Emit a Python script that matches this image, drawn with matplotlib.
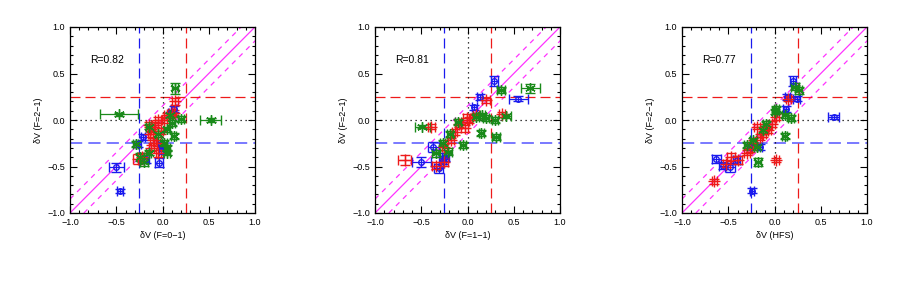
import matplotlib
matplotlib.use("Agg")
import matplotlib.pyplot as plt
from matplotlib.ticker import MultipleLocator

# ---------------- data ----------------
xlabels = ["δV (F=0−1)", "δV (F=1−1)", "δV (HFS)"]
r_values = ["R=0.82", "R=0.81", "R=0.77"]

# Panel 1
p1_blue_x = [-0.50, -0.46, -0.21, -0.04, 0.12, -0.18, -0.02, 0.08, -0.26, -0.02]
p1_blue_y = [-0.51, -0.76, -0.18, -0.46, 0.12, -0.42, -0.27, 0.07, -0.26, -0.33]
p1_blue_xe = [0.08, 0.03, 0.02, 0.04, 0.03, 0.03, 0.03, 0.02, 0.03, 0.02]
p1_blue_ye = [0.05, 0.02, 0.03, 0.05, 0.03, 0.04, 0.03, 0.02, 0.03, 0.03]

p1_red_x = [0.135, 0.12, -0.27, -0.22, -0.045, -0.10, -0.12, -0.08, -0.05, 0.02, -0.15, -0.12, 0.05, -0.02, -0.13, 0.10, -0.06]
p1_red_y = [0.20, 0.08, -0.42, -0.40, -0.36, -0.22, -0.10, -0.05, 0.00, 0.00, -0.05, -0.30, 0.05, -0.12, -0.15, 0.08, -0.25]
p1_red_xe = [0.03, 0.03, 0.05, 0.04, 0.03, 0.03, 0.03, 0.03, 0.03, 0.03, 0.03, 0.03, 0.03, 0.03, 0.03, 0.03, 0.03]
p1_red_ye = [0.04, 0.03, 0.05, 0.04, 0.04, 0.03, 0.03, 0.03, 0.03, 0.03, 0.03, 0.03, 0.03, 0.03, 0.03, 0.03, 0.03]

p1_green_x = [-0.47, 0.52, 0.135, -0.24, 0.20, 0.10, 0.12, 0.05, -0.15, -0.29, 0.05, -0.05, 0.02, -0.15, -0.20, 0.05, 0.08]
p1_green_y = [0.06, 0.00, 0.34, -0.40, 0.01, -0.03, -0.17, -0.10, -0.07, -0.26, -0.30, -0.15, -0.25, -0.35, -0.45, -0.35, 0.05]
p1_green_xe = [0.21, 0.11, 0.03, 0.04, 0.03, 0.03, 0.03, 0.03, 0.03, 0.03, 0.03, 0.03, 0.03, 0.03, 0.04, 0.03, 0.03]
p1_green_ye = [0.02, 0.02, 0.06, 0.04, 0.03, 0.03, 0.03, 0.03, 0.03, 0.03, 0.03, 0.03, 0.03, 0.03, 0.04, 0.03, 0.03]

# Panel 2
p2_blue_x = [0.29, 0.55, 0.13, 0.075, -0.50, -0.37, -0.31, -0.24, -0.27]
p2_blue_y = [0.42, 0.23, 0.25, 0.135, -0.45, -0.29, -0.52, -0.40, -0.43]
p2_blue_xe = [0.04, 0.10, 0.03, 0.03, 0.10, 0.06, 0.05, 0.04, 0.04]
p2_blue_ye = [0.05, 0.03, 0.03, 0.03, 0.05, 0.05, 0.05, 0.04, 0.04]

p2_red_x = [-0.68, -0.34, -0.25, -0.39, 0.20, 0.37, -0.03, -0.01, -0.09, 0.09, -0.18, -0.25, -0.14, 0.02]
p2_red_y = [-0.43, -0.49, -0.45, -0.07, 0.21, 0.06, -0.09, 0.02, -0.04, 0.05, -0.22, -0.29, -0.13, 0.00]
p2_red_xe = [0.07, 0.04, 0.04, 0.04, 0.04, 0.03, 0.04, 0.04, 0.03, 0.03, 0.03, 0.03, 0.03, 0.03]
p2_red_ye = [0.05, 0.04, 0.04, 0.03, 0.03, 0.03, 0.04, 0.04, 0.03, 0.03, 0.03, 0.03, 0.03, 0.03]

p2_green_x = [0.68, 0.36, -0.49, 0.15, 0.31, 0.42, 0.30, 0.16, -0.05, -0.19, -0.34, -0.21, 0.09, -0.10, 0.20, -0.27]
p2_green_y = [0.34, 0.32, -0.07, -0.14, -0.18, 0.04, 0.00, 0.05, -0.27, -0.15, -0.36, -0.34, 0.03, -0.02, 0.02, -0.25]
p2_green_xe = [0.10, 0.04, 0.08, 0.03, 0.04, 0.05, 0.03, 0.03, 0.03, 0.03, 0.04, 0.04, 0.03, 0.03, 0.03, 0.03]
p2_green_ye = [0.05, 0.03, 0.02, 0.03, 0.03, 0.02, 0.03, 0.03, 0.03, 0.03, 0.04, 0.04, 0.03, 0.03, 0.03, 0.03]

# Panel 3
p3_blue_x = [0.64, 0.20, 0.14, 0.24, 0.12, -0.24, -0.63, -0.48, -0.56, -0.41, -0.16, -0.27]
p3_blue_y = [0.03, 0.42, 0.25, 0.23, 0.12, -0.76, -0.42, -0.51, -0.49, -0.43, -0.29, -0.29]
p3_blue_xe = [0.06, 0.03, 0.03, 0.04, 0.03, 0.02, 0.05, 0.05, 0.04, 0.04, 0.03, 0.03]
p3_blue_ye = [0.02, 0.05, 0.03, 0.03, 0.03, 0.03, 0.04, 0.05, 0.04, 0.04, 0.03, 0.03]

p3_red_x = [-0.65, 0.02, -0.19, -0.39, -0.52, -0.47, -0.30, -0.23, -0.16, -0.09, -0.03, 0.02, 0.15, -0.12, -0.07, -0.27]
p3_red_y = [-0.66, -0.43, -0.07, -0.43, -0.47, -0.40, -0.35, -0.25, -0.18, -0.07, -0.04, 0.03, 0.23, -0.15, -0.11, -0.31]
p3_red_xe = [0.03, 0.03, 0.03, 0.04, 0.04, 0.04, 0.03, 0.03, 0.03, 0.03, 0.03, 0.03, 0.03, 0.03, 0.03, 0.03]
p3_red_ye = [0.03, 0.02, 0.03, 0.04, 0.04, 0.04, 0.03, 0.03, 0.03, 0.03, 0.03, 0.03, 0.03, 0.03, 0.03, 0.03]

p3_green_x = [0.11, -0.18, 0.26, 0.22, 0.18, 0.11, 0.02, 0.00, -0.23, -0.30, -0.12, -0.19, -0.09]
p3_green_y = [-0.17, -0.45, 0.32, 0.36, 0.02, 0.05, 0.12, 0.09, -0.22, -0.27, -0.11, -0.29, -0.04]
p3_green_xe = [0.03, 0.03, 0.04, 0.04, 0.03, 0.03, 0.03, 0.03, 0.03, 0.03, 0.03, 0.03, 0.03]
p3_green_ye = [0.03, 0.04, 0.04, 0.04, 0.03, 0.03, 0.03, 0.03, 0.03, 0.03, 0.03, 0.03, 0.03]

panels = [
    [(p1_blue_x, p1_blue_y, p1_blue_xe, p1_blue_ye),
     (p1_red_x, p1_red_y, p1_red_xe, p1_red_ye),
     (p1_green_x, p1_green_y, p1_green_xe, p1_green_ye)],
    [(p2_blue_x, p2_blue_y, p2_blue_xe, p2_blue_ye),
     (p2_red_x, p2_red_y, p2_red_xe, p2_red_ye),
     (p2_green_x, p2_green_y, p2_green_xe, p2_green_ye)],
    [(p3_blue_x, p3_blue_y, p3_blue_xe, p3_blue_ye),
     (p3_red_x, p3_red_y, p3_red_xe, p3_red_ye),
     (p3_green_x, p3_green_y, p3_green_xe, p3_green_ye)],
]

# ---------------- styling ----------------
plt.rcParams['font.family'] = ['Liberation Sans', 'DejaVu Sans']
plt.rcParams['axes.unicode_minus'] = True

BLUE = '#1a1aee'
RED = '#ee1a1a'
GREEN = '#1a8a1a'
MAG = '#ff33ff'

styles = [
    dict(color=BLUE, marker='o', mfc='none', ms=4, mew=1.0),
    dict(color=RED, marker='+', ms=8, mew=1.0),
    dict(color=GREEN, marker=(6, 2, 0), ms=7.5, mew=1.0),
]

fig = plt.figure(figsize=(9.17, 2.92), dpi=100)
lefts = [70 / 917, 375 / 917, 682 / 917]
W = 185 / 917
B = (292 - 213) / 292
H = 186 / 292

for i, left in enumerate(lefts):
    ax = fig.add_axes([left, B, W, H])
    ax.set_xlim(-1, 1)
    ax.set_ylim(-1, 1)
    # reference lines
    ax.plot([-1, 1], [-1, 1], color=MAG, lw=0.9, zorder=1)
    ax.plot([-1, 1], [-0.85, 1.15], color=MAG, lw=0.9, ls=(0, (4, 4)), zorder=1)
    ax.plot([-0.85, 1.15], [-1, 1], color=MAG, lw=0.9, ls=(0, (4, 4)), zorder=1)
    ax.axhline(0.25, color=RED, lw=0.9, ls=(0, (8, 4)), zorder=1)
    ax.axhline(-0.25, color='#5555ff', lw=1.1, ls=(0, (8, 4)), zorder=1)
    ax.axvline(-0.25, color=BLUE, lw=0.9, ls=(0, (8, 4)), zorder=1)
    ax.axvline(0.25, color=RED, lw=0.9, ls=(0, (8, 4)), zorder=1)
    ax.axhline(0, color='black', lw=0.9, ls=(0, (1, 3)), zorder=1)
    ax.axvline(0, color='black', lw=0.9, ls=(0, (1, 3)), zorder=1)

    for (x, y, xe, ye), st in zip(panels[i], styles):
        ax.errorbar(x, y, xerr=xe, yerr=ye, ls='none', elinewidth=0.9,
                    capsize=3.5, capthick=0.9, zorder=3, **st)

    ax.text(-0.78, 0.65, r_values[i], fontsize=7.5, va='center', ha='left')
    ax.set_xlabel(xlabels[i], fontsize=6.5, labelpad=3)
    ax.set_ylabel("δV (F=2−1)", fontsize=6.5, labelpad=3)
    ax.xaxis.set_major_locator(MultipleLocator(0.5))
    ax.yaxis.set_major_locator(MultipleLocator(0.5))
    ax.xaxis.set_minor_locator(MultipleLocator(0.1))
    ax.yaxis.set_minor_locator(MultipleLocator(0.1))
    ax.tick_params(which='both', direction='in', top=True, right=True, labelsize=6.5, width=0.8)
    ax.tick_params(which='major', length=5)
    ax.tick_params(which='minor', length=2.5)
    ax.set_xticklabels([f"{v:.1f}".replace('-', '−') for v in ax.get_xticks()])
    ax.set_yticklabels([f"{v:.1f}".replace('-', '−') for v in ax.get_yticks()])
    for s in ax.spines.values():
        s.set_linewidth(0.9)

fig.savefig("out.png", dpi=100)
